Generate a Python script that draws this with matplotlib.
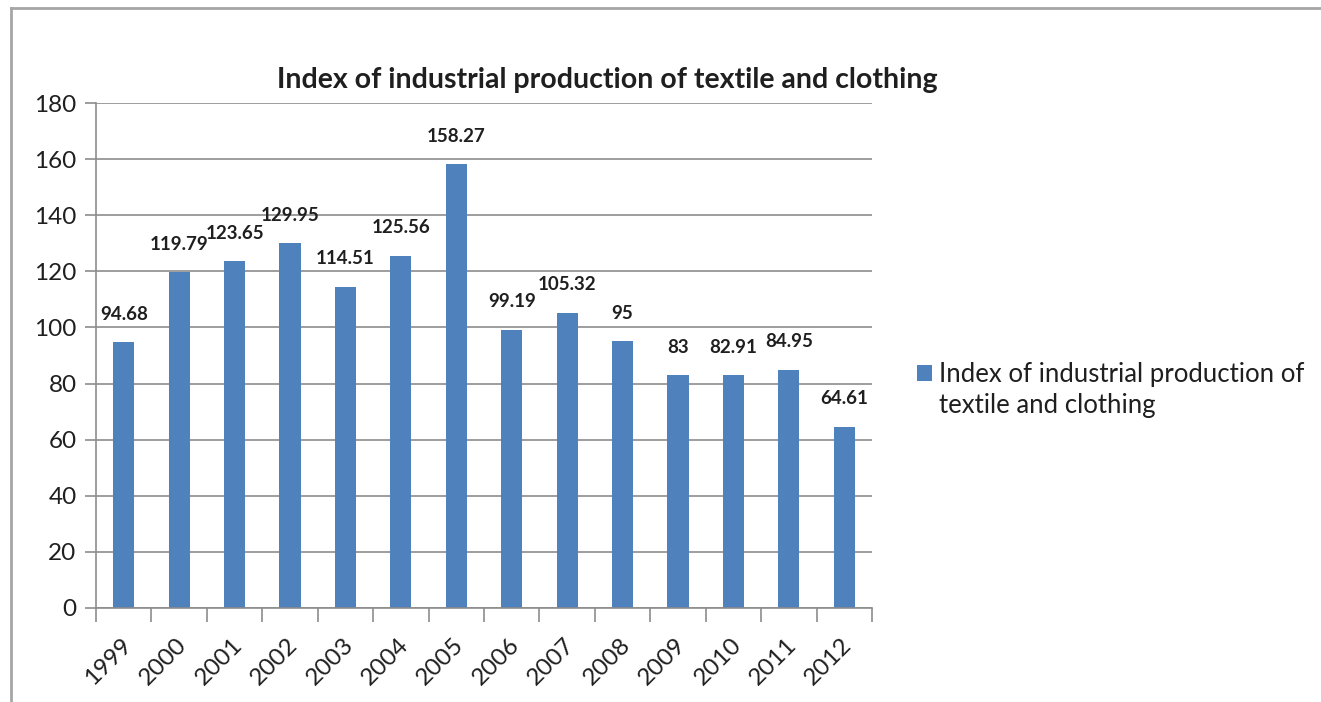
import matplotlib
matplotlib.use("Agg")
import matplotlib.pyplot as plt
import matplotlib.transforms as mtransforms
from matplotlib.lines import Line2D
from matplotlib.patches import Rectangle

years = ["1999", "2000", "2001", "2002", "2003", "2004", "2005",
         "2006", "2007", "2008", "2009", "2010", "2011", "2012"]
values = [94.68, 119.79, 123.65, 129.95, 114.51, 125.56, 158.27,
          99.19, 105.32, 95, 83, 82.91, 84.95, 64.61]
value_labels = ["94.68", "119.79", "123.65", "129.95", "114.51", "125.56", "158.27",
                "99.19", "105.32", "95", "83", "82.91", "84.95", "64.61"]
yticks = [0, 20, 40, 60, 80, 100, 120, 140, 160, 180]
title = "Index of industrial production of textile and clothing"
legend_lines = ["Index of industrial production of", "textile and clothing"]

plt.rcParams['font.family'] = ['Lato', 'DejaVu Sans']

W, H = 1321, 702
fig = plt.figure(figsize=(W / 100, H / 100), dpi=100)
ax = fig.add_axes([96 / W, 1 - 608 / H, 776 / W, 505 / H])

bar_color = "#4F81BD"
grid_color = "#8C8C8C"
text_color = "#1F1F1F"

x = list(range(len(years)))
ax.bar(x, values, width=0.38, color=bar_color, zorder=3)
ax.set_xlim(-0.5, len(years) - 0.5)
ax.set_ylim(0, 180)
ax.set_yticks(yticks)
ax.set_yticklabels([str(t) for t in yticks], fontsize=17.5, color=text_color)
ax.yaxis.grid(True, color=grid_color, linewidth=1.2, zorder=0)
ax.tick_params(axis='y', length=8, width=1.2, color=grid_color, pad=6)

# x ticks at category boundaries, labels at category centres
ax.set_xticks([i - 0.5 for i in range(len(years) + 1)], minor=False)
ax.set_xticklabels([""] * (len(years) + 1))
ax.set_xticks(x, minor=True)
ax.set_xticklabels(years, minor=True, rotation=45, ha='right', rotation_mode='anchor',
                   fontsize=17.5, color=text_color)
ax.tick_params(axis='x', which='major', length=10, width=1.2, color=grid_color, direction='out')
ax.tick_params(axis='x', which='minor', length=0, pad=19)
offset = mtransforms.ScaledTranslation(-3 / 100, 0, fig.dpi_scale_trans)
for lab in ax.get_xticklabels(minor=True):
    lab.set_transform(lab.get_transform() + offset)

for s in ["top", "right"]:
    ax.spines[s].set_visible(False)
for s in ["left", "bottom"]:
    ax.spines[s].set_color(grid_color)
    ax.spines[s].set_linewidth(1.2)
    ax.spines[s].set_zorder(4)

for xi, v, lbl in zip(x, values, value_labels):
    ax.annotate(lbl, (xi, v), xytext=(0, 20), textcoords='offset points',
                ha='center', va='center', fontsize=13.5, fontweight='bold', color=text_color)

fig.text(607 / W, 1 - 80 / H, title, ha='center', va='center', fontsize=20.5,
         fontweight='bold', color=text_color)

# legend (drawn manually to match the reference layout)
fig.add_artist(Rectangle((917 / W, 1 - 381 / H), 15 / W, 16 / H, facecolor=bar_color,
                         edgecolor='none', transform=fig.transFigure))
fig.text(939 / W, 1 - 382 / H, legend_lines[0], ha='left', va='baseline',
         fontsize=18.5, color=text_color)
fig.text(939 / W, 1 - 413 / H, legend_lines[1], ha='left', va='baseline',
         fontsize=18.5, color=text_color)

# outer chart frame (top and left visible)
fig.add_artist(Line2D([11 / W, 1], [1 - 8 / H, 1 - 8 / H], color="#A6A6A6", linewidth=2,
                      transform=fig.transFigure))
fig.add_artist(Line2D([11 / W, 11 / W], [0, 1 - 8 / H], color="#A6A6A6", linewidth=2,
                      transform=fig.transFigure))

fig.savefig("out.png", dpi=100, facecolor="white")
